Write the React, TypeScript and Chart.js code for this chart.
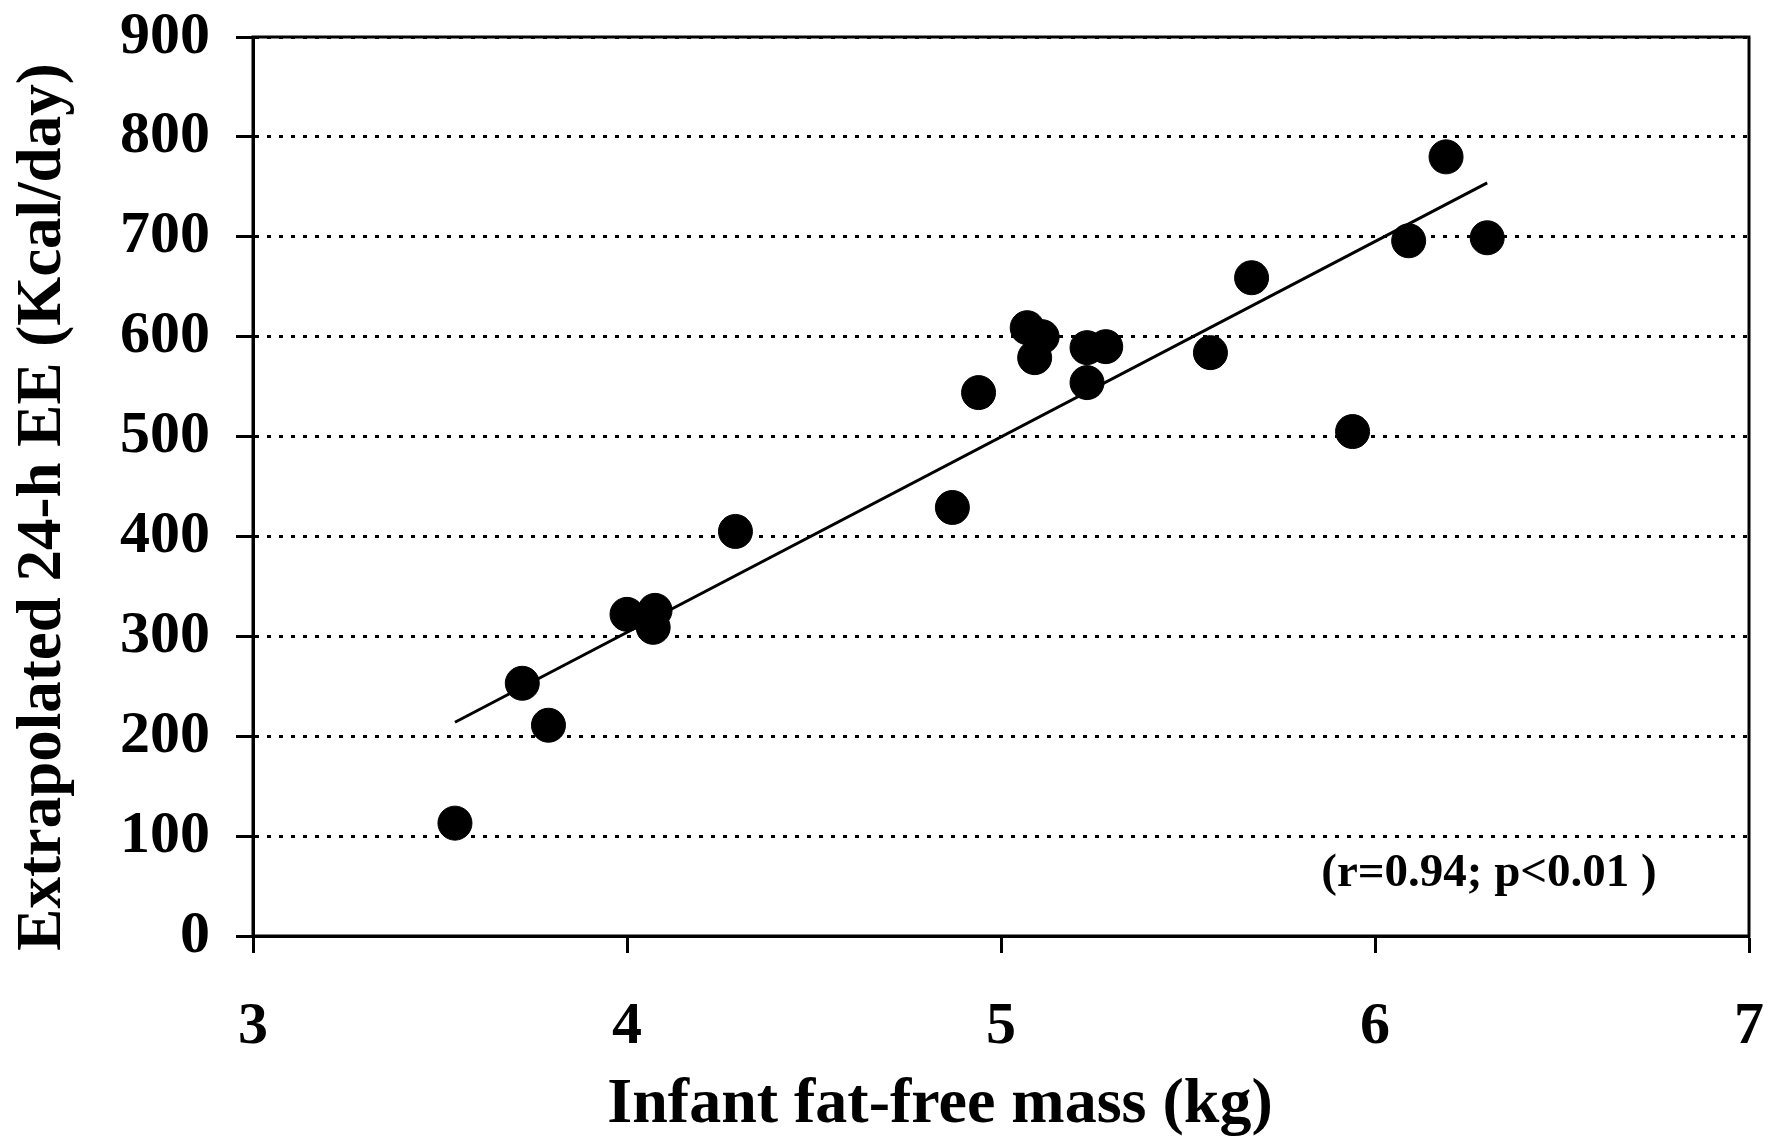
import React, { useEffect, useRef } from "react";
import { Chart, registerables } from "chart.js";

Chart.register(...registerables);

// Data
const ffmKg: number[] = [3.54, 3.72, 3.79, 4.0, 4.075, 4.07, 4.29, 4.87, 4.94, 5.07, 5.11, 5.09, 5.23, 5.28, 5.23, 5.56, 5.67, 5.94, 6.09, 6.19, 6.3];
const eeKcal: number[] = [113, 253, 211, 322, 326, 309, 405, 429, 544, 609, 600, 579, 589, 590, 554, 584, 659, 505, 696, 780, 699];

const fitX: number[] = [3.54, 6.3];
const fitY: number[] = [214, 754];

const xTicks: number[] = [3, 4, 5, 6, 7];
const yTicks: number[] = [0, 100, 200, 300, 400, 500, 600, 700, 800, 900];

const X_TITLE = "Infant fat-free mass (kg)";
const Y_TITLE = "Extrapolated 24-h EE (Kcal/day)";
const NOTE = "(r=0.94; p<0.01 )";

const FONT = '"Liberation Serif", "Times New Roman", serif';

const decorPlugin = {
  id: "decor",
  afterDraw(chart: any) {
    const { ctx, chartArea } = chart;
    ctx.save();
    ctx.strokeStyle = "#000";
    ctx.lineWidth = 3;
    ctx.setLineDash([]);
    ctx.strokeRect(chartArea.left, chartArea.top, chartArea.right - chartArea.left, chartArea.bottom - chartArea.top);

    ctx.fillStyle = "#000";
    ctx.textAlign = "center";
    ctx.textBaseline = "alphabetic";
    ctx.font = `bold 64px ${FONT}`;
    ctx.fillText(X_TITLE, chartArea.left + 687, 1122);

    ctx.font = `bold 47px ${FONT}`;
    ctx.textBaseline = "middle";
    ctx.fillText(NOTE, chartArea.left + 1236, chartArea.bottom - 62);

    ctx.translate(60, 507);
    ctx.rotate(-Math.PI / 2);
    ctx.textBaseline = "alphabetic";
    ctx.font = `bold 63px ${FONT}`;
    ctx.fillText(Y_TITLE, 0, 0);
    ctx.restore();
  },
};

export default function App() {
  const ref = useRef<HTMLCanvasElement | null>(null);

  useEffect(() => {
    if (!ref.current) return;
    const chart = new Chart(ref.current, {
      type: "scatter",
      data: {
        datasets: [
          {
            type: "line",
            label: "fit",
            data: fitX.map((x, i) => ({ x, y: fitY[i] })),
            borderColor: "#000",
            borderWidth: 3,
            pointRadius: 0,
            fill: false,
          } as any,
          {
            label: "EE",
            data: ffmKg.map((x, i) => ({ x, y: eeKcal[i] })),
            backgroundColor: "#000",
            borderColor: "#000",
            borderWidth: 1,
            pointRadius: 17,
          },
        ],
      },
      options: {
        responsive: false,
        animation: false,
        devicePixelRatio: 1,
        layout: { padding: { left: 0, right: 19, top: 37, bottom: 0 } },
        plugins: {
          legend: { display: false },
          tooltip: { enabled: false },
          title: { display: false },
        },
        scales: {
          x: {
            type: "linear",
            min: 3,
            max: 7,
            afterFit: (s: any) => {
              s.height = 200;
              s.paddingLeft = 0;
              s.paddingRight = 0;
            },
            afterBuildTicks: (s: any) => {
              s.ticks = xTicks.map((v) => ({ value: v }));
            },
            ticks: {
              color: "#000",
              font: { family: FONT, size: 60, weight: "bold" },
              padding: 38,
              maxRotation: 0,
            },
            grid: {
              drawOnChartArea: false,
              drawTicks: true,
              tickLength: 17,
              tickColor: "#000",
              tickWidth: 3,
            },
            border: { display: true, color: "#000", width: 3 },
          },
          y: {
            type: "linear",
            min: 0,
            max: 900,
            afterFit: (s: any) => {
              s.width = 253;
              s.paddingTop = 0;
              s.paddingBottom = 0;
            },
            afterBuildTicks: (s: any) => {
              s.ticks = yTicks.map((v) => ({ value: v }));
            },
            ticks: {
              color: "#000",
              font: { family: FONT, size: 60, weight: "bold" },
              padding: 26,
            },
            grid: {
              drawOnChartArea: true,
              color: "#000",
              lineWidth: 3,
              drawTicks: true,
              tickLength: 17,
              tickColor: "#000",
              tickWidth: 3,
              tickBorderDash: [],
            },
            border: { display: true, color: "#000", width: 3, dash: [4, 8] },
          },
        },
      },
      plugins: [decorPlugin],
    });
    return () => chart.destroy();
  }, []);

  return (
    <div style={{ position: "absolute", left: 0, top: 0, width: 1768, height: 1136, background: "#fff" }}>
      <canvas ref={ref} width={1768} height={1136} style={{ display: "block" }} />
    </div>
  );
}
